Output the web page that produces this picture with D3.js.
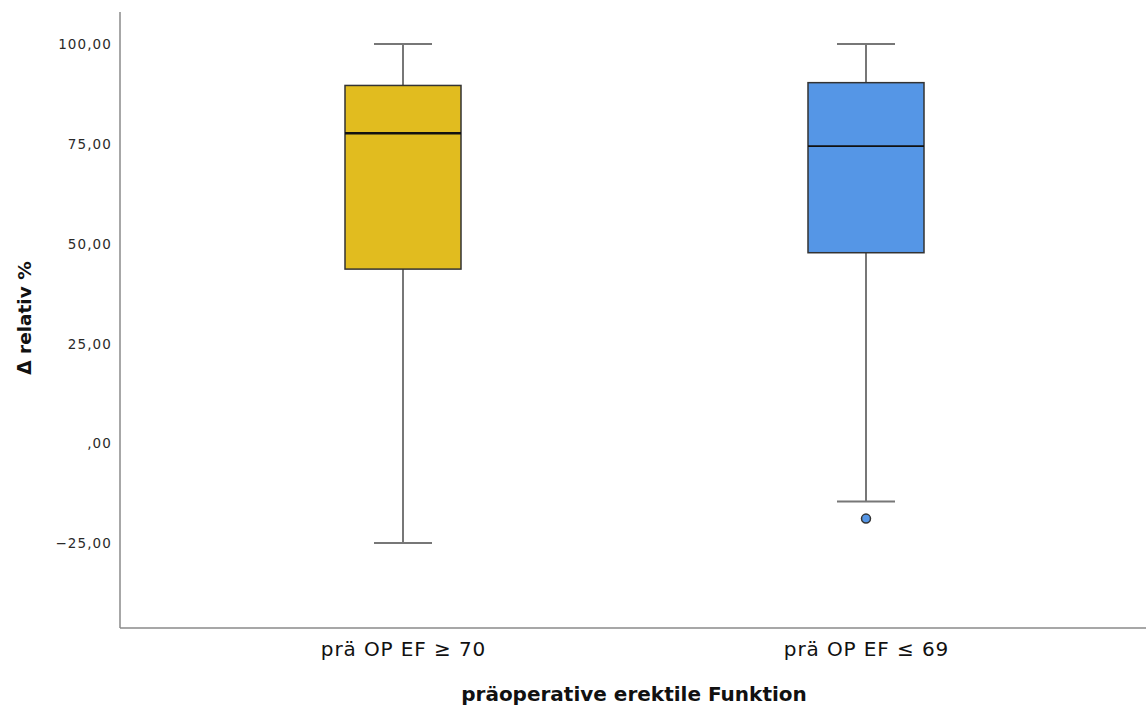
<!DOCTYPE html>
<html><head><meta charset="utf-8">
<script src="https://cdn.jsdelivr.net/npm/d3@7"></script>
<style>body{margin:0;background:#fff}</style>
</head><body>
<svg id="c" width="1146" height="706"></svg>
<script>
const categories = ["prä OP EF ≥ 70", "prä OP EF ≤ 69"];
const whiskerLow = [-25.0, -14.6];
const q1 = [43.6, 47.7];
const median = [77.6, 74.4];
const q3 = [89.6, 90.3];
const whiskerHigh = [100.0, 100.0];
const outliers = [[], [-18.9]];
const colors = ["#E1BC1F", "#5596E6"];
const yTicks = [-25, 0, 25, 50, 75, 100];

const svg = d3.select("#c");
const pLeft = 120, pRight = 1146, pTop = 12, pBottom = 628;
const y = d3.scaleLinear().domain([-46.3, 108.0]).range([pBottom, pTop]);
const xc = d3.scalePoint().domain(categories).range([403, 866]);
const boxW = 116, capW = 58;

const fmt = v => (v === 0 ? "" : d3.format("d")(v)) + ",00";
const yAxis = d3.axisLeft(y).tickValues(yTicks).tickSize(0).tickPadding(8).tickFormat(fmt);
const gy = svg.append("g").attr("transform", `translate(${pLeft},0)`).call(yAxis);
gy.select(".domain").remove();
gy.selectAll("text").attr("font-family", "DejaVu Sans, sans-serif").attr("font-size", 13.5)
  .attr("letter-spacing", "1.1px").attr("fill", "#2a2a2a").attr("dy", "0.35em");

const xAxis = d3.axisBottom(xc).tickSize(0).tickPadding(14);
const gx = svg.append("g").attr("transform", `translate(0,${pBottom})`).call(xAxis);
gx.select(".domain").remove();
gx.selectAll("text").attr("font-family", "DejaVu Sans, sans-serif").attr("font-size", 20)
  .attr("letter-spacing", "0.9px").attr("fill", "#111").attr("dy", "0.71em");

svg.append("line").attr("x1", pLeft).attr("x2", pLeft).attr("y1", pTop).attr("y2", pBottom).attr("stroke", "#8a8a8a").attr("stroke-width", 1.5);
svg.append("line").attr("x1", pLeft).attr("x2", pRight).attr("y1", pBottom).attr("y2", pBottom).attr("stroke", "#8a8a8a").attr("stroke-width", 1.5);

categories.forEach((c, i) => {
  const cx = xc(c);
  const g = svg.append("g");
  g.append("line").attr("x1", cx).attr("x2", cx).attr("y1", y(whiskerHigh[i])).attr("y2", y(q3[i])).attr("stroke", "#777").attr("stroke-width", 2);
  g.append("line").attr("x1", cx).attr("x2", cx).attr("y1", y(q1[i])).attr("y2", y(whiskerLow[i])).attr("stroke", "#777").attr("stroke-width", 2);
  g.append("line").attr("x1", cx - capW/2).attr("x2", cx + capW/2).attr("y1", y(whiskerHigh[i])).attr("y2", y(whiskerHigh[i])).attr("stroke", "#777").attr("stroke-width", 2);
  g.append("line").attr("x1", cx - capW/2).attr("x2", cx + capW/2).attr("y1", y(whiskerLow[i])).attr("y2", y(whiskerLow[i])).attr("stroke", "#777").attr("stroke-width", 2);
  g.append("rect").attr("x", cx - boxW/2).attr("width", boxW).attr("y", y(q3[i])).attr("height", y(q1[i]) - y(q3[i]))
    .attr("fill", colors[i]).attr("stroke", "#333").attr("stroke-width", 1.5);
  g.append("line").attr("x1", cx - boxW/2).attr("x2", cx + boxW/2).attr("y1", y(median[i])).attr("y2", y(median[i]))
    .attr("stroke", "#111").attr("stroke-width", i === 0 ? 2.5 : 1.8);
  outliers[i].forEach(v => {
    g.append("circle").attr("cx", cx).attr("cy", y(v)).attr("r", 4.5).attr("fill", colors[i]).attr("stroke", "#333").attr("stroke-width", 1.5);
  });
});

svg.append("text").attr("transform", "translate(31,318) rotate(-90)").attr("text-anchor", "middle")
  .attr("font-family", "DejaVu Sans, sans-serif").attr("font-weight", "bold").attr("font-size", 18.5).attr("fill", "#111").text("Δ relativ %");
svg.append("text").attr("x", 634).attr("y", 701).attr("text-anchor", "middle")
  .attr("font-family", "DejaVu Sans, sans-serif").attr("font-weight", "bold").attr("font-size", 20).attr("fill", "#111").text("präoperative erektile Funktion");
</script>
</body></html>
